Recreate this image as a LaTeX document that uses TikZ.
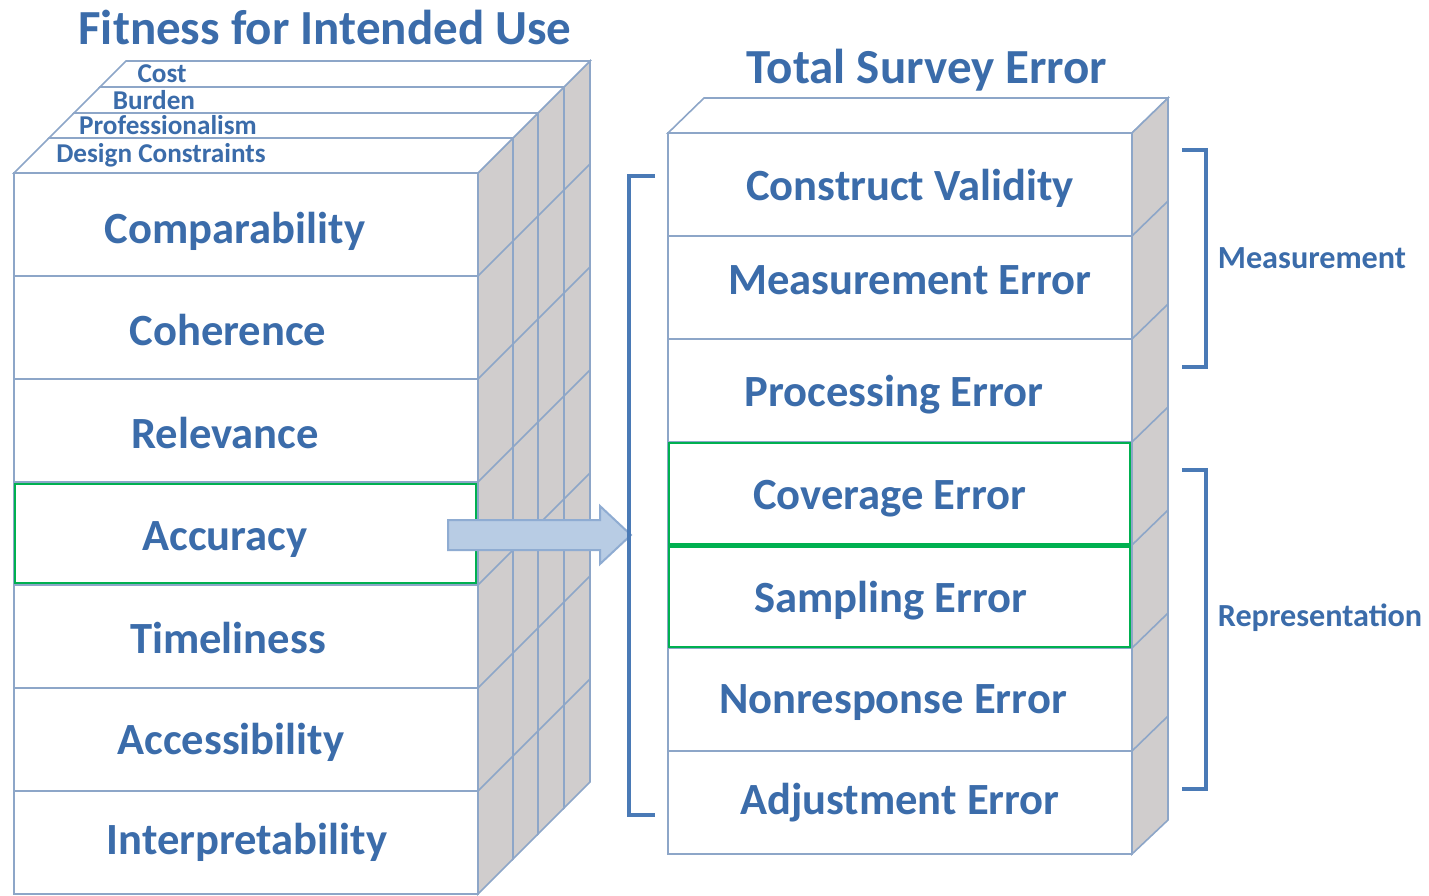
\documentclass[tikz,border=0pt]{standalone}
\usepackage{fontspec}
\setmainfont{Carlito}
\usetikzlibrary{positioning}
\definecolor{txtblue}{RGB}{59,108,170}
\definecolor{edgeclr}{RGB}{141,166,200}
\definecolor{sidegray}{RGB}{208,205,205}
\definecolor{hiliteclr}{RGB}{0,176,80}
\definecolor{brktclr}{RGB}{74,122,182}
\definecolor{arrfill}{RGB}{184,204,228}
\definecolor{arrdraw}{RGB}{143,172,210}
\begin{document}
\begin{tikzpicture}
[x=0.5pt,y=-0.5pt,
rowbox/.style={draw=edgeclr,fill=white,line width=1pt,minimum width=232pt,minimum height=51.5pt,inner sep=0pt,outer sep=0pt},
rowtext/.style={anchor=base,inner sep=0pt,text=txtblue,font=\bfseries\fontsize{22.3}{26}\selectfont},
sideface/.style={draw=edgeclr,fill=sidegray,line width=.8pt},
topface/.style={draw=edgeclr,fill=white,line width=.8pt},
edgeline/.style={draw=edgeclr,line width=.8pt},
hilite/.style={draw=hiliteclr,line width=1.3pt},
bigarrow/.style={draw=arrdraw,fill=arrfill,line width=1pt},
brkt/.style={draw=brktclr,line width=1.6pt,line join=miter},
title/.style={text=txtblue,font=\bfseries\fontsize{24.5}{28}\selectfont},
toplabel/.style={text=txtblue,font=\bfseries\fontsize{13.6}{15}\selectfont,inner sep=0pt},
sidelabel/.style={text=txtblue,font=\bfseries\fontsize{16.1}{18}\selectfont}]
\useasboundingbox (0,0) rectangle (1429,895);

% fitness for use
\node[title] (fitness) at (325,27) {Fitness for Intended Use};
\node[rowbox,anchor=north west] (comp) at (14,173) {};
\node[rowbox,below=0pt of comp] (coh) {};
\node[rowbox,below=0pt of coh] (rel) {};
\node[rowbox,below=0pt of rel] (acc) {};
\node[rowbox,below=0pt of acc] (time) {};
\node[rowbox,below=0pt of time] (access) {};
\node[rowbox,below=0pt of access] (interp) {};

\node[rowtext] (comptxt) at (235,243) {Comparability};
\node[rowtext] (cohtxt) at (228,345) {Coherence};
\node[rowtext] (reltxt) at (225,448) {Relevance};
\node[rowtext] (acctxt) at (225,550) {Accuracy};
\node[rowtext] (timetxt) at (228,653) {Timeliness};
\node[rowtext] (accesstxt) at (231,754) {Accessibility};
\node[rowtext] (interptxt) at (247,854) {Interpretability};

\foreach \da/\db in {0/35,35/60,60/86,86/112}{
  \draw[sideface] (478+\da,173-\da) -- (478+\db,173-\db) -- (478+\db,894-\db) -- (478+\da,894-\da) -- cycle;
  \draw[topface] (14+\da,173-\da) -- (14+\db,173-\db) -- (478+\db,173-\db) -- (478+\da,173-\da) -- cycle;
}
\foreach \nd in {coh,rel,acc,time,access,interp}
  \draw[edgeline] (\nd.north east) -- ++(112,-112);

\node[toplabel] (design) at (161,155) {Design Constraints};
\node[toplabel] (prof) at (168,125) {Professionalism};
\node[toplabel] (burden) at (154,100) {Burden};
\node[toplabel] (cost) at (162,74) {Cost};

% total survey error
\node[title] (tse) at (927,70) {Total Survey Error};
\node[rowbox,anchor=north west] (cv) at (668,133) {};
\node[rowbox,below=0pt of cv] (meas) {};
\node[rowbox,below=0pt of meas] (proc) {};
\node[rowbox,below=0pt of proc] (cov) {};
\node[rowbox,below=0pt of cov] (samp) {};
\node[rowbox,below=0pt of samp] (nonr) {};
\node[rowbox,below=0pt of nonr] (adj) {};

\node[rowtext] (cvtxt) at (910,200) {Construct Validity};
\node[rowtext] (meastxt) at (910,294) {Measurement Error};
\node[rowtext] (proctxt) at (894,406) {Processing Error};
\node[rowtext] (covtxt) at (890,509) {Coverage Error};
\node[rowtext] (samptxt) at (891,612) {Sampling Error};
\node[rowtext] (nonrtxt) at (893,713) {Nonresponse Error};
\node[rowtext] (adjtxt) at (900,814) {Adjustment Error};

\draw[topface] (cv.north west) -- ++(36,-35) -- ++(464,0) -- (cv.north east) -- cycle;
\draw[sideface] (cv.north east) -- ++(36,-35) -- ++(0,722) -- (adj.south east) -- cycle;
\foreach \nd in {meas,proc,cov,samp,nonr,adj}
  \draw[edgeline] (\nd.north east) -- ++(36,-35);

% highlighted rows
\draw[hilite] ([xshift=.5pt,yshift=-1pt]acc.north west) rectangle ([xshift=-1pt,yshift=1pt]acc.south east);
\draw[hilite] ([xshift=.5pt,yshift=-.5pt]cov.north west) rectangle ([xshift=-1pt,yshift=.6pt]cov.south east);
\draw[hilite] ([xshift=.5pt,yshift=-.6pt]samp.north west) rectangle ([xshift=-1pt,yshift=.5pt]samp.south east);

% arrow
\coordinate (arrtail) at (448,535);
\coordinate (arrtip) at (631,535);
\draw[bigarrow] (arrtail) ++(0,-15) -- ++(152,0) -- ++(0,-14) -- (arrtip) -- ++(-31,29) -- ++(0,-14) -- ++(-152,0) -- cycle;

% brackets
\draw[brkt] (655,176) -- (629,176) -- (629,815) -- (655,815);
\draw[brkt] (1182,150) -- (1206,150) -- (1206,367) -- (1182,367);
\draw[brkt] (1182,470) -- (1206,470) -- (1206,789) -- (1182,789);
\node[sidelabel] (measlbl) at (1312,258) {Measurement};
\node[sidelabel] (replbl) at (1320,618) {Representation};
\end{tikzpicture}
\end{document}
